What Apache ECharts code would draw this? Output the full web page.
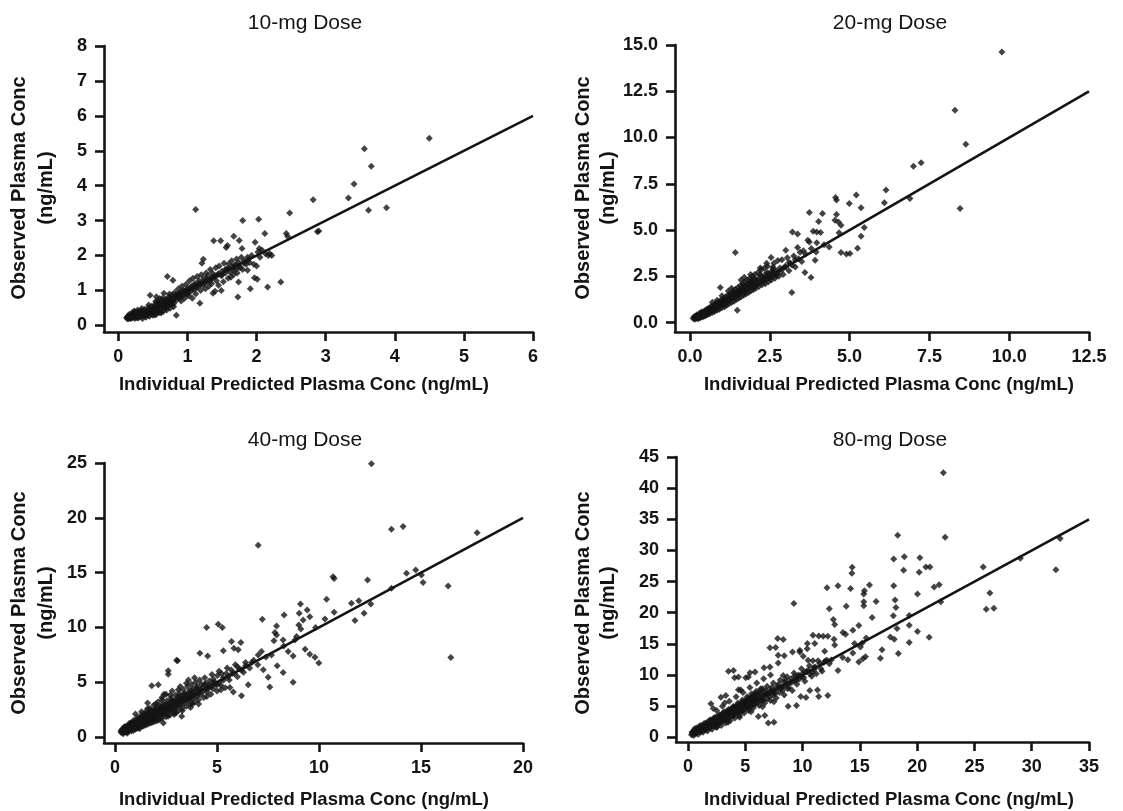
<!DOCTYPE html>
<html>
<head>
<meta charset="utf-8">
<script src="https://cdn.jsdelivr.net/npm/echarts@6/dist/echarts.min.js"></script>
<style>
html,body{margin:0;padding:0;background:#fff;}
#chart{width:1123px;height:811px;}
</style>
</head>
<body>
<div id="chart"></div>
<script>
// ---- Panel titles and axis titles ----
const panelTitles = ['10-mg Dose', '20-mg Dose', '40-mg Dose', '80-mg Dose'];
const xTitle = 'Individual Predicted Plasma Conc (ng/mL)';
const yTitle1 = 'Observed Plasma Conc';
const yTitle2 = '(ng/mL)';

// ---- Tick values ----
const ticksX10 = [0, 1, 2, 3, 4, 5, 6];
const ticksY10 = [0, 1, 2, 3, 4, 5, 6, 7, 8];
const ticksX20 = [0, 2.5, 5, 7.5, 10, 12.5];
const ticksY20 = [0, 2.5, 5, 7.5, 10, 12.5, 15];
const ticksX40 = [0, 5, 10, 15, 20];
const ticksY40 = [0, 5, 10, 15, 20, 25];
const ticksX80 = [0, 5, 10, 15, 20, 25, 30, 35];
const ticksY80 = [0, 5, 10, 15, 20, 25, 30, 35, 40, 45];

// ---- Identity lines (x = y) ----
const line10 = [[0.13, 0.13], [6, 6]];
const line20 = [[0.2, 0.2], [12.5, 12.5]];
const line40 = [[0.4, 0.4], [20, 20]];
const line80 = [[0.5, 0.5], [35, 35]];

// ---- Observed vs predicted, 10 mg ----
const pts10 = [
[0.12,0.22],[0.13,0.19],[0.14,0.27],[0.15,0.21],[0.16,0.32],[0.17,0.24],[0.18,0.19],[0.19,0.29],[0.2,0.36],[0.21,0.22],
[0.22,0.27],[0.23,0.41],[0.24,0.2],[0.25,0.31],[0.26,0.24],[0.27,0.37],[0.28,0.44],[0.29,0.21],[0.3,0.29],[0.31,0.35],
[0.32,0.25],[0.33,0.42],[0.34,0.3],[0.35,0.2],[0.36,0.37],[0.37,0.27],[0.38,0.46],[0.39,0.33],[0.4,0.23],[0.41,0.4],
[0.42,0.3],[0.43,0.5],[0.44,0.36],[0.45,0.26],[0.46,0.44],[0.47,0.33],[0.48,0.55],[0.49,0.4],[0.5,0.29],[0.51,0.48],
[0.52,0.37],[0.53,0.6],[0.54,0.44],[0.55,0.32],[0.56,0.53],[0.57,0.41],[0.58,0.64],[0.59,0.49],[0.6,0.36],[0.61,0.58],
[0.62,0.45],[0.63,0.7],[0.64,0.53],[0.65,0.4],[0.66,0.63],[0.67,0.5],[0.68,0.75],[0.69,0.58],[0.7,0.44],[0.71,0.67],
[0.72,0.55],[0.73,0.82],[0.74,0.62],[0.75,0.49],[0.76,0.72],[0.77,0.6],[0.78,0.88],[0.79,0.68],[0.8,0.53],[0.81,0.78],
[0.15,0.26],[0.25,0.27],[0.35,0.3],[0.45,0.4],[0.55,0.5],[0.65,0.6],[0.3,0.38],[0.4,0.34],[0.5,0.45],[0.6,0.55],
[0.7,0.62],[0.22,0.33],[0.27,0.22],[0.38,0.28],[0.48,0.36],[0.58,0.4],[0.68,0.48],[0.62,0.36],[0.53,0.3],[0.46,0.86],
[0.55,0.82],[0.6,0.77],[0.57,0.7],[0.71,1.40],[0.84,0.29],[0.79,1.29],[0.66,0.92],
[0.82,0.95],[0.84,0.72],[0.85,0.88],[0.87,1.05],[0.88,0.8],[0.9,0.93],[0.91,0.7],[0.92,1.12],[0.94,0.86],[0.95,1.0],
[0.96,0.78],[0.98,1.18],[0.99,0.92],[1.0,1.05],[1.02,0.85],[1.03,1.28],[1.05,0.98],[1.06,1.12],[1.07,0.78],[1.08,1.35],
[1.1,1.02],[1.11,1.2],[1.12,0.9],[1.14,1.4],[1.15,1.1],[1.17,1.28],[1.18,0.63],[1.19,1.0],[1.2,1.45],[1.21,1.78],
[1.22,1.15],[1.23,1.89],[1.24,1.35],[1.26,1.05],[1.27,1.5],[1.28,1.25],[1.3,1.42],[1.31,1.12],[1.33,1.6],[1.34,1.32],
[1.35,1.2],[1.36,1.5],[1.37,0.92],[1.38,2.42],[1.39,1.38],[1.4,0.98],[1.41,1.65],[1.42,1.28],[1.44,1.45],[1.45,1.15],
[1.46,1.7],[1.48,2.42],[1.49,1.0],[1.49,1.42],[1.5,1.55],[1.52,1.25],[1.53,1.78],[1.55,1.5],[1.56,2.23],[1.57,1.62],
[1.58,2.29],[1.59,1.35],[1.6,1.76],[1.62,1.52],[1.63,1.38],[1.64,1.85],[1.66,1.6],[1.67,2.55],[1.67,1.46],[1.68,1.72],
[1.7,1.6],[1.71,1.9],[1.72,1.5],[1.73,0.81],[1.74,1.24],[1.74,1.8],[1.75,2.43],[1.76,1.65],[1.78,1.95],[1.79,2.2],
[1.8,3.0],[1.8,1.6],[1.82,1.85],[1.85,1.75],[1.87,1.58],[1.87,1.95],[1.9,1.8],[1.91,1.05],[1.93,2.0],[1.96,1.75],
[1.97,1.36],[1.98,2.38],[2.0,1.7],[2.01,1.32],[2.02,2.1],[2.03,3.04],[2.04,2.2],[2.05,1.95],[2.08,2.15],[2.12,2.63],
[2.13,2.05],[2.16,1.1],[2.17,2.0],[2.19,2.06],[2.22,2.0],[2.35,1.24],[2.43,2.63],[2.45,2.55],[2.48,3.22],[2.82,3.6],
[2.88,2.68],[2.9,2.7],[3.33,3.65],[3.41,4.05],[3.56,5.06],[3.62,3.3],[3.66,4.56],[3.88,3.37],[4.5,5.36],[1.12,3.32],
[0.13,0.24],[0.16,0.22],[0.19,0.25],[0.21,0.3],[0.23,0.25],[0.26,0.33],[0.28,0.29],[0.31,0.27],[0.33,0.34],[0.36,0.31],
[0.39,0.38],[0.41,0.34],[0.44,0.44],[0.47,0.4],[0.5,0.5],[0.52,0.44],[0.55,0.56],[0.57,0.5],[0.6,0.6],[0.63,0.55],
[0.65,0.67],[0.68,0.62],[0.7,0.72],[0.72,0.66],[0.75,0.78],[0.78,0.72],[0.8,0.82],[0.83,0.86],[0.86,0.8],[0.88,0.92],
[0.91,0.88],[0.93,0.98],[0.96,0.95],[0.99,1.02],[1.01,0.98],[1.04,1.08],[1.07,1.05],[1.1,1.15],[1.13,1.1],[1.16,1.2],
[1.19,1.18],[1.22,1.25],[1.25,1.22],[1.28,1.32],[1.32,1.28],[1.36,1.38],[1.4,1.42],[1.45,1.48],[1.5,1.45],[1.55,1.6],
[1.6,1.62],[1.65,1.68],[1.7,1.72],[1.75,1.7],[1.82,1.78],[1.88,1.88],[0.24,0.38],[0.34,0.48],[0.44,0.58],[0.54,0.68],
[0.64,0.78],[0.74,0.9],[0.5,0.36],[0.6,0.45],[0.7,0.52],[0.8,0.62],[0.9,0.8],[1.0,0.9]
];

// ---- Observed vs predicted, 20 mg ----
const pts20 = [
[0.1,0.22],[0.12,0.3],[0.15,0.18],[0.17,0.35],[0.2,0.25],[0.22,0.42],[0.25,0.2],[0.27,0.33],[0.3,0.5],[0.32,0.26],
[0.35,0.4],[0.37,0.58],[0.4,0.3],[0.42,0.46],[0.45,0.62],[0.47,0.36],[0.5,0.52],[0.52,0.72],[0.55,0.42],[0.57,0.6],
[0.6,0.8],[0.62,0.48],[0.65,0.66],[0.67,0.88],[0.7,0.55],[0.72,0.74],[0.75,0.95],[0.77,0.6],[0.8,0.82],[0.82,1.05],
[0.85,0.66],[0.87,0.9],[0.9,1.12],[0.92,0.72],[0.95,0.98],[0.97,1.22],[1.0,0.8],[1.02,1.05],[0.95,1.9],[1.05,1.3],
[1.08,0.86],[1.1,1.12],[1.12,1.4],[1.15,0.94],[1.18,1.2],[1.2,1.5],[1.22,1.02],[1.25,1.3],[1.28,1.58],[1.3,1.08],
[1.33,1.38],[1.35,1.7],[1.38,1.15],[1.4,1.46],[1.42,1.8],[1.42,3.79],[1.45,1.25],[1.48,0.67],[1.48,1.55],[1.5,1.9],
[1.53,1.32],[1.55,1.62],[1.58,2.0],[1.6,1.4],[1.63,1.72],[1.65,2.1],[1.68,1.48],[1.7,1.8],[1.72,2.2],[1.75,1.55],
[1.78,1.9],[1.8,2.3],[1.83,1.62],[1.85,2.0],[1.88,2.4],[1.9,1.7],[1.93,2.08],[1.96,2.5],[1.98,1.78],[2.0,2.15],
[2.03,2.6],[2.06,1.85],[2.1,2.25],[2.13,2.7],[2.16,1.95],[2.2,2.3],[2.23,2.85],[2.26,2.05],[2.3,2.4],[2.33,2.95],
[2.36,2.1],[2.4,2.5],[2.43,3.05],[2.46,2.2],[2.5,2.6],[2.54,3.52],[2.55,2.3],[2.6,2.7],[2.63,3.2],[2.66,2.4],
[2.7,2.8],[2.75,3.35],[2.78,2.5],[2.82,2.95],[2.88,3.4],[2.92,2.6],[2.98,3.05],[3.0,3.91],[3.05,3.5],[3.1,2.8],
[3.15,3.2],[3.19,1.62],[3.21,4.89],[3.25,3.6],[3.3,3.0],[3.37,4.78],[3.37,4.06],[3.4,3.45],[3.45,3.8],[3.5,3.3],
[3.55,3.88],[3.6,2.7],[3.62,3.7],[3.69,4.45],[3.74,4.36],[3.74,5.95],[3.79,2.43],[3.8,4.0],[3.86,4.94],[3.92,3.37],
[3.95,3.82],[3.97,4.9],[3.97,4.31],[4.03,5.46],[4.09,4.87],[4.15,5.9],[4.2,4.2],[4.36,4.09],[4.54,5.53],[4.56,6.76],
[4.59,6.62],[4.59,5.84],[4.65,5.44],[4.67,4.85],[4.73,5.26],[4.73,3.79],[4.9,3.7],[4.99,6.44],[5.01,3.73],[5.21,6.89],
[5.25,4.02],[5.36,6.2],[5.36,4.67],[5.46,5.14],[6.09,6.47],[6.14,7.16],[6.89,6.71],[7.0,8.45],[7.24,8.64],[8.3,11.47],
[8.46,6.17],[8.64,9.64],[9.77,14.62],
[0.2,0.35],[0.3,0.38],[0.4,0.45],[0.5,0.6],[0.6,0.62],[0.7,0.75],[0.8,0.95],[0.9,0.88],[1.0,1.1],[1.1,1.25],
[1.2,1.3],[1.3,1.42],[1.4,1.6],[1.5,1.6],[1.6,1.7],[1.7,2.0],[1.8,1.95],[1.9,2.2],[2.0,2.35],[2.1,2.05],
[2.2,2.6],[2.3,2.2],[2.4,2.7],[2.5,2.45],[2.6,2.9],[2.7,2.55],[0.25,0.3],[0.35,0.5],[0.45,0.5],[0.55,0.7],
[0.15,0.28],[0.18,0.22],[0.22,0.3],[0.26,0.38],[0.28,0.25],[0.32,0.4],[0.36,0.33],[0.38,0.48],[0.42,0.38],[0.46,0.5],
[0.5,0.42],[0.53,0.58],[0.56,0.52],[0.6,0.68],[0.63,0.6],[0.66,0.75],[0.7,0.68],[0.73,0.85],[0.76,0.78],[0.8,0.72],
[0.83,0.9],[0.86,0.82],[0.9,1.0],[0.93,0.92],[0.96,1.08],[1.0,1.0],[1.03,1.18],[1.07,1.1],[1.1,1.02],[1.13,1.25],
[1.17,1.15],[1.2,1.35],[1.24,1.22],[1.27,1.42],[1.3,1.3],[1.34,1.5],[1.37,1.42],[1.4,1.35],[1.44,1.6],[1.47,1.48],
[1.5,1.7],[1.54,1.56],[1.57,1.78],[1.6,1.65],[1.64,1.88],[1.67,1.72],[1.7,1.62],[1.74,1.95],[1.77,1.82],[1.8,2.05],
[1.84,1.88],[1.87,2.12],[1.9,1.98],[1.94,2.25],[1.97,2.0],[2.0,1.9],[2.05,2.3],[2.1,2.12],[2.15,2.4],[2.2,2.15],
[2.25,2.5],[2.3,2.3],[2.35,2.55],[2.4,2.35],[2.45,2.65],[2.5,2.4],[2.55,2.75],[2.6,2.5],[2.7,2.65],[2.8,2.75],
[2.9,2.9],[3.0,3.0],[3.1,3.25],[3.2,3.1],[3.3,3.4],[1.2,1.7],[1.3,1.85],[1.6,2.3],[1.7,2.45],[1.9,2.6],
[2.2,2.95],[2.4,3.2],[2.6,3.0],[0.7,1.1],[0.85,1.2],[1.0,1.45]
];

// ---- Observed vs predicted, 40 mg ----
const pts40 = [
[0.3,0.4],[0.35,0.7],[0.4,0.3],[0.45,0.9],[0.5,0.5],[0.55,0.8],[0.6,0.45],[0.65,1.0],[0.7,0.6],[0.75,1.2],
[0.8,0.75],[0.85,1.05],[0.9,0.6],[0.95,1.35],[1.0,0.9],[1.05,1.2],[1.1,0.8],[1.15,1.55],[1.2,1.05],[1.25,1.4],
[1.3,0.95],[1.35,1.75],[1.4,1.2],[1.45,1.6],[1.5,1.1],[1.55,2.0],[1.6,1.4],[1.65,1.8],[1.7,1.25],[1.75,2.2],
[1.8,4.67],[1.8,1.6],[1.85,2.0],[1.9,1.4],[1.95,2.5],[2.0,1.75],[2.05,2.2],[2.1,1.5],[2.12,4.76],[2.15,2.8],
[2.2,1.95],[2.25,2.4],[2.3,1.7],[2.35,3.0],[2.37,1.27],[2.4,2.1],[2.45,2.6],[2.5,1.85],[2.55,3.3],[2.6,2.3],
[2.61,6.04],[2.61,5.73],[2.65,2.8],[2.7,2.0],[2.75,3.5],[2.8,2.5],[2.85,3.0],[2.9,2.2],[2.95,3.8],[3.0,2.7],
[3.02,7.0],[3.07,6.95],[3.05,3.2],[3.1,2.4],[3.15,4.0],[3.2,2.9],[3.25,3.4],[3.27,1.88],[3.3,2.6],[3.35,4.3],
[3.4,3.1],[3.45,3.6],[3.5,2.8],[3.55,4.6],[3.6,3.3],[3.65,3.9],[3.7,3.0],[3.75,4.8],[3.8,3.5],[3.85,4.1],
[3.9,3.2],[3.95,5.0],[4.0,3.7],[4.05,4.3],[4.1,3.4],[4.15,5.2],[4.16,7.65],[4.2,3.9],[4.3,4.5],[4.35,3.6],
[4.4,5.4],[4.49,9.98],[4.5,4.1],[4.54,7.4],[4.6,4.7],[4.7,3.9],[4.75,5.7],[4.8,4.4],[4.9,5.0],[5.0,4.2],
[5.06,10.29],[5.1,6.0],[5.2,4.7],[5.26,9.98],[5.3,5.4],[5.31,7.86],[5.4,4.5],[5.5,6.3],[5.6,5.2],[5.63,4.52],
[5.71,8.71],[5.75,5.8],[5.8,4.1],[5.83,8.1],[5.9,6.6],[6.0,5.5],[6.04,7.95],[6.1,6.2],[6.17,8.62],[6.2,3.76],
[6.3,5.9],[6.4,6.8],[6.53,4.76],[6.6,6.3],[6.8,7.0],[7.0,6.6],[7.02,17.5],[7.02,7.49],[7.18,7.8],[7.22,10.74],
[7.27,6.13],[7.4,7.3],[7.51,5.46],[7.59,4.55],[7.67,7.49],[7.79,8.77],[7.84,9.53],[7.92,9.31],[7.92,10.13],[7.95,6.49],
[8.24,5.89],[8.24,8.86],[8.27,8.31],[8.29,11.13],[8.49,7.8],[8.73,7.4],[8.73,5.0],[8.82,8.86],[8.9,9.16],[9.01,10.22],
[9.03,11.29],[9.09,12.14],[9.11,9.86],[9.22,10.68],[9.32,8.01],[9.42,11.59],[9.55,10.98],[9.55,7.55],[9.8,7.28],[9.83,9.98],
[9.99,6.74],[10.29,10.77],[10.37,12.56],[10.69,14.62],[10.74,14.47],[10.74,11.38],[11.59,12.2],[11.76,10.62],[11.95,12.44],[12.21,11.29],
[12.38,14.32],[12.54,12.14],[12.57,24.94],[13.55,13.56],[13.55,18.96],[14.12,19.2],[14.29,14.93],[14.74,15.23],[15.02,14.78],[15.1,14.1],
[16.33,13.77],[16.46,7.25],[17.75,18.63],
[0.4,0.55],[0.5,0.7],[0.6,0.75],[0.7,0.9],[0.8,1.0],[0.9,0.95],[1.0,1.15],[1.1,1.3],[1.2,1.35],[1.3,1.5],
[1.4,1.5],[1.5,1.7],[1.6,1.9],[1.7,1.9],[1.2,0.75],[0.45,0.45],[0.55,0.6],[0.65,0.65],[0.35,0.5],[0.3,0.55],
[0.42,0.62],[0.52,0.88],[0.62,0.55],[0.72,0.75],[0.85,0.8],[0.95,1.1],[1.05,0.95],[1.15,1.1],[1.25,1.2],[1.35,1.3],
[1.45,1.4],[1.55,1.55],[1.65,1.6],[1.75,1.7],[1.85,1.75],[1.95,1.9],[2.05,2.05],[2.15,2.1],[2.25,2.2],[2.35,2.35],
[2.45,2.4],[2.55,2.5],[2.65,2.6],[2.75,2.75],[2.85,2.8],[2.95,2.9],[3.1,3.0],[3.3,3.3],[3.5,3.45],[3.7,3.6],
[0.32,0.6],[0.38,0.42],[0.44,0.7],[0.48,0.6],[0.52,0.48],[0.58,0.95],[0.62,0.85],[0.68,0.7],[0.72,1.05],[0.78,0.95],
[0.82,1.3],[0.88,1.15],[0.92,0.85],[0.98,1.25],[1.02,1.5],[1.08,1.05],[1.12,1.45],[1.18,1.7],[1.22,1.25],[1.28,1.6],
[1.32,1.85],[1.38,1.4],[1.42,1.75],[1.48,2.1],[1.52,1.45],[1.58,1.75],[1.62,2.2],[1.68,1.6],[1.72,2.0],[1.78,2.45],
[1.82,1.85],[1.88,2.25],[1.92,1.65],[1.98,2.1],[2.02,2.6],[2.08,1.95],[2.18,2.35],[2.28,2.65],[2.32,2.0],[2.42,2.85],
[2.48,2.2],[2.58,2.7],[2.68,3.1],[2.72,2.4],[2.82,3.2],[2.92,2.6],[3.02,3.4],[3.12,2.9],[3.22,3.7],[3.32,3.2],
[3.42,3.9],[3.52,3.4],[3.62,4.1],[3.72,3.6],[3.82,4.4],[3.92,3.8],[4.02,4.6],[4.12,4.0],[4.22,4.8],[4.32,4.2],
[4.42,4.9],[4.52,4.4],[4.62,5.1],[4.72,4.6],[4.82,5.3],[4.92,4.8],[5.02,5.6],[5.12,5.0],[5.22,5.8],[5.32,5.2],
[5.45,5.8],[5.55,5.5],[5.7,6.1],[5.85,5.8],[6.0,6.4],[6.2,6.1],[6.4,6.5],[6.7,6.8],[1.0,2.1],[1.3,2.3],
[1.6,2.6],[2.0,3.0],[2.3,3.4],[2.7,3.8],[3.1,4.3],[3.5,4.9],[3.9,5.4],[1.6,3.1],[2.4,3.9],[3.0,2.2],
[3.8,3.0],[4.5,3.7],[5.2,4.3],
[0.5,0.95],[0.7,1.25],[0.9,1.5],[1.1,1.75],[1.3,2.0],[1.5,2.3],[1.7,2.6],[1.9,2.9],[2.1,3.2],[2.3,3.6],
[2.5,3.9],[2.8,4.2],[3.2,4.6],[3.6,5.2],[0.6,0.35],[0.8,0.55],[1.0,0.7],[1.2,0.9],[1.4,1.0],[1.6,1.15],
[1.8,1.3],[2.0,1.45],[2.2,1.6],[2.6,1.9],[2.9,2.05],[3.3,2.4],[3.7,2.7],[4.1,3.0],[0.45,0.65],[0.55,0.5],
[0.65,0.85],[0.75,0.7],[0.85,1.15],[0.95,0.9],[1.05,1.4],[1.15,1.25],[1.25,1.65],[1.35,1.45],[1.45,1.85],[1.55,1.7],
[1.65,2.05],[1.75,1.9],[1.85,2.35],[1.95,2.15],[2.05,2.45],[2.15,2.3],[2.25,2.75],[2.35,2.6],[2.5,3.0],[2.65,2.95],
[2.8,3.35],[2.95,3.25],[3.1,3.65],[3.25,3.55],[3.4,3.95],[3.55,3.8],[3.7,4.25],[3.85,4.0],[4.0,4.45],[4.2,4.3],
[4.4,4.75],[4.6,4.5],[4.8,4.95],[5.0,4.75]
];

// ---- Observed vs predicted, 80 mg ----
const pts80 = [
[0.3,0.4],[0.4,0.9],[0.5,0.3],[0.6,1.4],[0.7,0.6],[0.8,1.1],[0.9,0.5],[1.0,1.8],[1.1,0.9],[1.2,1.4],
[1.3,0.8],[1.4,2.2],[1.5,1.2],[1.6,1.8],[1.7,1.0],[1.8,2.6],[1.9,1.5],[2.0,5.37],[2.0,2.1],[2.1,1.3],
[2.2,3.0],[2.3,1.8],[2.4,2.5],[2.5,1.6],[2.6,3.4],[2.7,2.2],[2.8,2.9],[2.87,6.44],[2.9,1.9],[3.0,3.8],
[3.1,2.6],[3.2,3.3],[3.3,6.71],[3.3,2.3],[3.4,4.2],[3.5,3.0],[3.53,10.58],[3.6,3.7],[3.7,2.7],[3.8,4.6],
[3.9,3.4],[4.0,4.1],[4.06,9.56],[4.1,3.1],[4.2,5.0],[4.3,3.8],[4.4,7.63],[4.4,4.5],[4.5,3.5],[4.6,5.4],
[4.7,4.2],[4.8,4.9],[4.9,3.9],[5.0,5.8],[5.04,9.56],[5.1,4.6],[5.2,5.3],[5.3,4.3],[5.41,10.37],[5.4,6.2],
[5.5,5.0],[5.6,5.7],[5.7,4.7],[5.8,6.6],[5.9,5.4],[6.0,6.1],[6.14,3.33],[6.2,5.1],[6.3,7.0],[6.4,5.8],
[6.5,6.5],[6.63,11.17],[6.7,5.5],[6.8,7.5],[6.9,6.2],[7.0,2.31],[7.0,7.0],[7.15,14.39],[7.2,5.9],[7.3,8.0],
[7.4,6.8],[7.5,7.5],[7.7,6.3],[7.82,15.84],[7.87,13.16],[7.87,11.92],[7.9,8.5],[8.0,7.2],[8.2,8.0],[8.4,6.8],
[8.5,9.2],[8.74,4.99],[8.7,7.8],[8.9,8.8],[9.1,7.5],[9.12,13.69],[9.24,21.48],[9.3,9.8],[9.5,8.5],[9.7,9.3],
[9.76,13.96],[9.84,6.55],[10.0,10.2],[10.05,13.0],[10.2,9.0],[10.42,15.04],[10.48,12.35],[10.5,10.8],[10.63,7.52],[10.8,9.8],
[10.91,16.38],[11.0,11.2],[11.2,10.2],[11.41,16.27],[11.41,6.55],[11.5,11.8],[11.7,10.6],[11.93,13.8],[12.0,12.3],[12.13,12.35],
[12.13,24.0],[12.33,11.82],[12.33,20.62],[12.5,12.4],[12.68,18.9],[12.74,15.74],[12.8,14.82],[12.8,18.1],[13.09,10.74],[13.09,24.33],
[13.5,12.8],[13.52,16.81],[13.75,16.54],[13.81,21.05],[13.95,12.46],[14.19,23.9],[14.3,26.32],[14.33,27.28],[14.39,13.53],[14.39,17.19],
[14.53,15.04],[14.91,17.94],[14.91,12.08],[15.05,14.5],[15.2,15.15],[15.26,12.62],[15.34,22.99],[15.34,21.75],[15.34,21.1],[15.4,23.52],
[15.49,12.94],[15.55,15.95],[15.84,24.44],[16.07,19.23],[16.42,21.8],[16.79,12.67],[16.93,14.07],[17.66,16.11],[17.92,19.5],[17.95,24.33],
[17.95,28.63],[18.0,15.74],[18.07,22.02],[18.15,20.84],[18.24,17.45],[18.3,32.44],[18.36,13.43],[18.82,26.8],[18.88,29.0],[19.31,19.55],
[19.31,17.99],[19.31,15.2],[20.03,16.97],[20.03,22.99],[20.18,26.48],[20.24,28.84],[20.76,27.34],[21.05,16.06],[21.11,27.34],[21.48,24.11],
[21.92,24.49],[22.06,21.75],[22.29,42.48],[22.44,32.12],[25.77,27.34],[26.03,20.57],[26.35,23.15],[26.69,20.73],[29.01,28.73],[32.11,26.91],
[32.48,31.9],
[3.97,10.74],[4.4,9.66],[5.27,9.66],[5.85,10.47],[7.15,11.27],[7.65,14.4],[8.31,15.7],[8.4,13.1],[9.76,13.7],[10.4,14.2],
[11.06,15.04],[11.8,16.2],[12.2,16.2],[8.3,9.9],[10.9,12.3],[6.7,3.5],[7.5,2.4],[9.47,5.1],[10.3,6.4],[11.3,7.6],[12.2,6.7],
[0.5,0.7],[0.7,1.0],[0.9,1.2],[1.1,1.5],[1.3,1.6],[1.5,1.9],[1.7,2.0],[1.9,2.4],[2.1,2.5],[2.3,2.8],
[2.5,2.9],[2.7,3.2],[2.9,3.4],[3.1,3.5],[3.3,3.9],[3.5,4.1],[3.7,4.3],[3.9,4.6],[4.1,4.7],[4.3,5.1],
[4.5,5.2],[4.7,5.6],[4.9,5.7],[5.1,6.0],[5.3,6.3],[5.5,6.4],[5.7,6.8],[5.9,7.0],[6.2,7.3],[6.5,7.8],
[1.2,1.0],[1.6,1.3],[2.2,2.0],[2.8,2.4],[3.4,3.0],[4.0,3.6],[4.6,4.3],[5.2,4.8],[5.8,5.4],[6.4,6.0],
[0.35,0.8],[0.45,0.5],[0.55,1.1],[0.65,0.8],[0.75,1.5],[0.85,0.9],[0.95,1.4],[1.05,1.1],[1.15,1.9],[1.25,1.2],
[1.35,1.7],[1.45,1.5],[1.55,2.3],[1.65,1.5],[1.75,2.1],[1.85,1.9],[1.95,2.8],[2.05,1.8],[2.15,2.5],[2.25,2.3],
[2.35,3.2],[2.45,2.1],[2.55,2.8],[2.65,2.7],[2.75,3.6],[2.85,2.5],[2.95,3.2],[3.05,3.1],[3.15,4.1],[3.25,2.9],
[3.35,3.6],[3.45,3.5],[3.55,4.5],[3.65,3.3],[3.75,4.0],[3.85,3.9],[3.95,5.0],[4.05,3.7],[4.15,4.4],[4.25,4.3],
[4.35,5.5],[4.45,4.0],[4.55,4.8],[4.65,4.7],[4.75,6.0],[4.85,4.4],[4.95,5.2],[5.05,5.1],[5.15,6.5],[5.25,4.8],
[5.35,5.6],[5.45,5.5],[5.55,7.0],[5.65,5.2],[5.75,6.0],[5.85,5.9],[5.95,7.4],[6.1,5.6],[6.25,6.4],[6.35,7.8],
[6.6,6.0],[6.75,6.9],[6.9,8.2],[7.1,6.5],[7.25,7.3],[7.45,8.7],[7.6,7.0],[7.8,7.8],[8.05,9.2],[8.25,7.5],
[8.45,8.3],[8.65,9.7],[8.8,8.0],[9.05,8.8],[9.25,10.3],[9.45,9.2],[9.65,10.0],[9.9,11.0],[10.1,9.6],[10.35,10.5],
[10.6,11.5],[10.85,10.4],[11.1,11.3],[11.35,12.3],[11.6,11.0],[11.85,12.0],[2.5,4.3],[3.0,5.0],[3.6,5.8],[4.2,6.5],
[4.8,7.2],[5.4,8.0],[6.0,8.7],[6.6,9.4],[7.2,10.0],[2.2,4.6],[3.2,5.5],[4.6,7.6],[2.5,1.6],[3.5,2.4],
[4.5,3.2],[5.5,4.1],[6.5,4.9],[7.5,5.7],
[0.4,0.6],[0.6,0.9],[0.8,1.3],[1.0,1.3],[1.2,1.7],[1.4,1.7],[1.6,2.1],[1.8,2.1],[2.0,2.6],[2.2,2.5],
[2.4,3.0],[2.6,2.9],[2.8,3.5],[3.0,3.3],[3.2,3.9],[3.4,3.7],[3.6,4.3],[3.8,4.1],[4.0,4.8],[4.2,4.5],
[4.4,5.2],[4.6,4.9],[4.8,5.5],[5.0,5.3],[5.2,6.0],[5.4,5.7],[5.6,6.3],[5.8,6.1],[6.0,6.8],[6.3,6.5],
[6.6,7.2],[6.9,7.0],[7.2,7.6],[7.5,7.2],[7.8,8.2],[8.1,8.0],[8.4,8.8],[8.7,8.6],[9.0,9.4],[9.3,9.1],
[9.6,9.8],[9.9,9.7],[10.2,10.5],[10.6,10.2],[11.0,10.9]
];

const panels = [
  {title: panelTitles[0], pts: pts10, line: line10, tx: ticksX10, ty: ticksY10, dec: 0,
   grid: {left: 104, top: 46, width: 429, height: 286}, xmin: -0.207, xmax: 6, ymin: -0.19, ymax: 8},
  {title: panelTitles[1], pts: pts20, line: line20, tx: ticksX20, ty: ticksY20, dec: 1,
   grid: {left: 675, top: 45, width: 414, height: 287}, xmin: -0.47, xmax: 12.5, ymin: -0.51, ymax: 15},
  {title: panelTitles[2], pts: pts40, line: line40, tx: ticksX40, ty: ticksY40, dec: 0,
   grid: {left: 104, top: 463, width: 419, height: 280}, xmin: -0.54, xmax: 20, ymin: -0.55, ymax: 25},
  {title: panelTitles[3], pts: pts80, line: line80, tx: ticksX80, ty: ticksY80, dec: 0,
   grid: {left: 676, top: 457, width: 413, height: 285}, xmin: -1.05, xmax: 35, ymin: -0.76, ymax: 45}
];

const FONT = 'Arial, "Liberation Sans", Helvetica, sans-serif';
const INK = '#141414';

const grids = [], xAxes = [], yAxes = [], series = [];
panels.forEach((p, i) => {
  grids.push(Object.assign({containLabel: false}, p.grid));
  const axisCommon = (ticks, dec, margin) => ({
    type: 'value',
    gridIndex: i,
    splitLine: {show: false},
    axisLine: {show: true, onZero: false, lineStyle: {color: INK, width: 2.6}},
    axisTick: {show: true, length: 9, customValues: ticks, lineStyle: {color: INK, width: 2.6}},
    axisLabel: {show: true, customValues: ticks, color: INK, fontFamily: FONT, fontWeight: 'bold', fontSize: 18,
      margin: margin, formatter: v => Number(v).toFixed(dec)}
  });
  xAxes.push(Object.assign(axisCommon(p.tx, p.dec, 16), {min: p.xmin, max: p.xmax}));
  yAxes.push(Object.assign(axisCommon(p.ty, p.dec, 17), {min: p.ymin, max: p.ymax}));
  series.push({
    type: 'scatter', xAxisIndex: i, yAxisIndex: i, data: p.pts,
    symbol: 'diamond', symbolSize: 7, itemStyle: {color: INK}, silent: true
  });
  series.push({
    type: 'line', xAxisIndex: i, yAxisIndex: i, data: p.line,
    symbol: 'none', lineStyle: {color: INK, width: 2.6}, silent: true, z: 3
  });
});

const tcx = [305, 890, 305, 890];
const tcy = [23, 23, 440, 440];
const xtx = [304, 889, 304, 889];
const xty = [385, 385, 800, 800];
const y1x = [19, 583, 19, 583];
const y2x = [46, 608, 46, 608];
const ycy = [188, 188, 603, 603];

const graphics = [];
for (let i = 0; i < 4; i++) {
  graphics.push({type: 'text', x: tcx[i], y: tcy[i], style: {text: panelTitles[i], fill: INK,
    font: '21px ' + FONT, align: 'center', verticalAlign: 'middle'}});
  graphics.push({type: 'text', x: xtx[i], y: xty[i], style: {text: xTitle, fill: INK,
    font: 'bold 18.5px ' + FONT, align: 'center', verticalAlign: 'middle'}});
  graphics.push({type: 'text', x: y1x[i], y: ycy[i], rotation: Math.PI / 2, style: {text: yTitle1, fill: INK,
    font: 'bold 20px ' + FONT, align: 'center', verticalAlign: 'middle'}});
  graphics.push({type: 'text', x: y2x[i], y: ycy[i], rotation: Math.PI / 2, style: {text: yTitle2, fill: INK,
    font: 'bold 20px ' + FONT, align: 'center', verticalAlign: 'middle'}});
}

const chart = echarts.init(document.getElementById('chart'), null, {renderer: 'canvas'});
chart.setOption({
  backgroundColor: '#ffffff',
  animation: false,
  grid: grids,
  xAxis: xAxes,
  yAxis: yAxes,
  series: series,
  graphic: graphics
});
</script>
</body>
</html>
